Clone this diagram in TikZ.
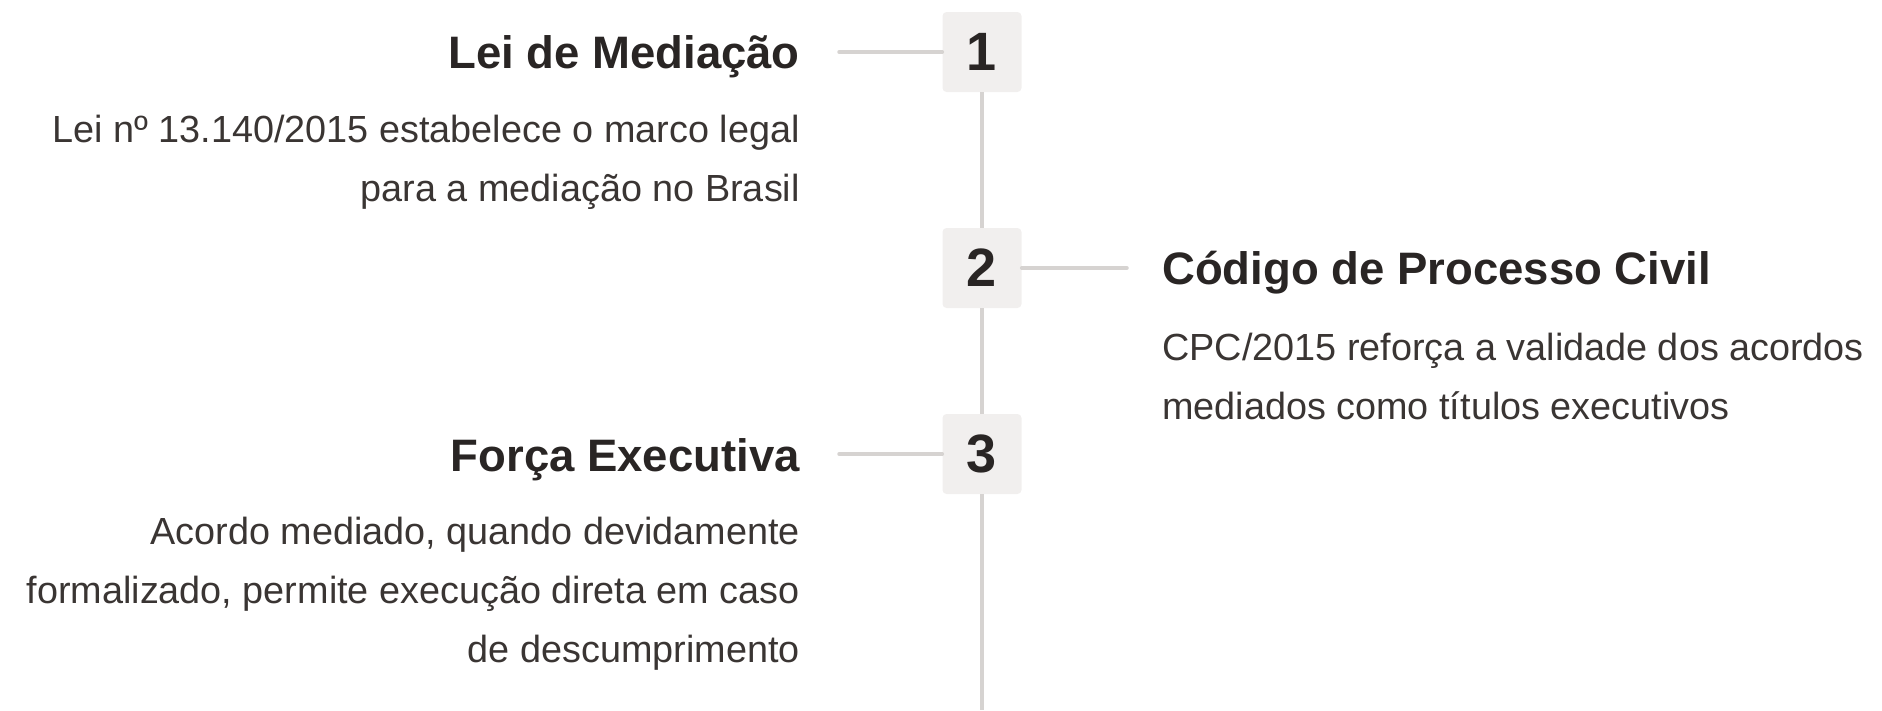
\documentclass[tikz,border=0pt]{standalone}
\usepackage{fontspec}
\setmainfont{Liberation Sans}
\definecolor{ink}{HTML}{292524}
\definecolor{bodyink}{HTML}{3A3533}
\definecolor{rail}{HTML}{D6D3D1}
\definecolor{boxfill}{HTML}{F1EFEE}
\tikzset{
  numbox/.style={fill=boxfill, rounded corners=4pt, minimum width=79pt, minimum height=80pt, inner sep=0pt, text=ink, font=\bfseries\fontsize{54pt}{54pt}\selectfont},
  ttl/.style={inner sep=0pt, text=ink, font=\bfseries\fontsize{45.5pt}{50pt}\selectfont},
  bodyr/.style={inner sep=0pt, text=bodyink, align=right, font=\fontsize{37.8pt}{59pt}\selectfont},
  bodyl/.style={inner sep=0pt, text=bodyink, align=left, font=\fontsize{37.8pt}{59pt}\selectfont},
  railline/.style={draw=rail, line width=3.5pt},
  conn/.style={draw=rail, line width=3.5pt, line cap=round}
}
\begin{document}
\begin{tikzpicture}[x=1pt,y=-1pt]
\useasboundingbox (0,0) rectangle (1882,710);
\coordinate (bottom) at (982,710);
\coordinate (c1) at (839,52);
\coordinate (c2) at (1127,268);
\coordinate (c3) at (839,454);
\node[numbox] (b1) at (982,52) {1};
\node[numbox] (b2) at (982,268) {2};
\node[numbox] (b3) at (982,454) {3};
\draw[railline] (b1.south) -- (b2.north);
\draw[railline] (b2.south) -- (b3.north);
\draw[railline] (b3.south) -- (bottom);
\draw[conn] (c1) -- (b1.west);
\draw[conn] (b2.east) -- (c2);
\draw[conn] (c3) -- (b3.west);
\node[ttl, anchor=base east] (t1) at (800,68) {Lei de Mediação};
\node[bodyr, anchor=base east] (d1) at (800,201) {Lei nº 13.140/2015 estabelece o marco legal\\para a mediação no Brasil};
\node[ttl, anchor=base west] (t2) at (1162,284) {Código de Processo Civil};
\node[bodyl, anchor=base west] (d2) at (1162,419) {CPC/2015 reforça a validade dos acordos\\mediados como títulos executivos};
\node[ttl, anchor=base east] (t3) at (800,471) {Força Executiva};
\node[bodyr, anchor=base east] (d3) at (800,662) {Acordo mediado, quando devidamente\\formalizado, permite execução direta em caso\\de descumprimento};
\end{tikzpicture}
\end{document}
